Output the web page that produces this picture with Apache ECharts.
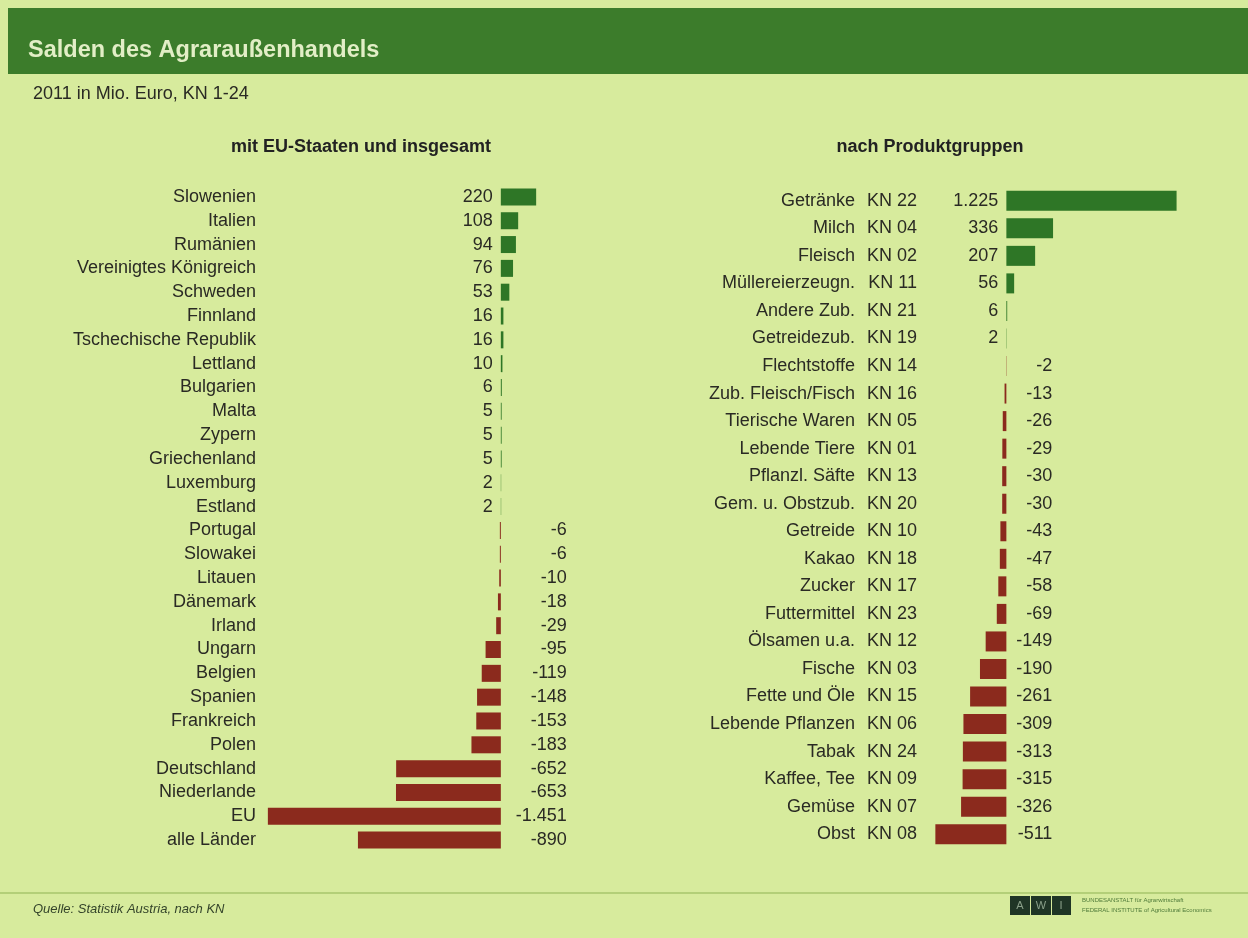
<!DOCTYPE html>
<html>
<head>
<meta charset="utf-8">
<script src="https://cdn.jsdelivr.net/npm/echarts@6/dist/echarts.min.js"></script>
<style>
html,body{margin:0;padding:0;background:#d7eb9d;}
#c{width:1248px;height:938px;}
</style>
</head>
<body>
<div id="c"></div>
<script>
// ---- data ----
const countries = ['Slowenien','Italien','Rumänien','Vereinigtes Königreich','Schweden','Finnland','Tschechische Republik','Lettland','Bulgarien','Malta','Zypern','Griechenland','Luxemburg','Estland','Portugal','Slowakei','Litauen','Dänemark','Irland','Ungarn','Belgien','Spanien','Frankreich','Polen','Deutschland','Niederlande','EU','alle Länder'];
const countryValues = [220,108,94,76,53,16,16,10,6,5,5,5,2,2,-6,-6,-10,-18,-29,-95,-119,-148,-153,-183,-652,-653,-1451,-890];

const productNames = ['Getränke','Milch','Fleisch','Müllereierzeugn.','Andere Zub.','Getreidezub.','Flechtstoffe','Zub. Fleisch/Fisch','Tierische Waren','Lebende Tiere','Pflanzl. Säfte','Gem. u. Obstzub.','Getreide','Kakao','Zucker','Futtermittel','Ölsamen u.a.','Fische','Fette und Öle','Lebende Pflanzen','Tabak','Kaffee, Tee','Gemüse','Obst'];
const productCodes = ['KN 22','KN 04','KN 02','KN 11','KN 21','KN 19','KN 14','KN 16','KN 05','KN 01','KN 13','KN 20','KN 10','KN 18','KN 17','KN 23','KN 12','KN 03','KN 15','KN 06','KN 24','KN 09','KN 07','KN 08'];
const productValues = [1225,336,207,56,6,2,-2,-13,-26,-29,-30,-30,-43,-47,-58,-69,-149,-190,-261,-309,-313,-315,-326,-511];

// ---- styling ----
const FONT = '"Liberation Sans", Arial, Helvetica, sans-serif';
const TXT = '#2a2a24';
const POS = '#2e7626';
const NEG = '#8b2a1d';
const BG = '#d7eb9d';

function fmt(v){
  const a = Math.abs(v);
  let s = a >= 1000 ? Math.floor(a/1000) + '.' + String(a%1000).padStart(3,'0') : String(a);
  return (v < 0 ? '-' : '') + s;
}

function buildItems(values, negBoxW){
  return values.map(v => {
    if (v >= 0) {
      return {value: v, itemStyle:{color: POS},
        label:{show:true, position:'left', distance:8, formatter: fmt(v), color: TXT, fontSize:18, fontFamily: FONT}};
    }
    return {value: v, itemStyle:{color: NEG},
      label:{show:true, position:'right', distance:6, formatter: '{v|' + fmt(v) + '}', color: TXT, fontSize:18, fontFamily: FONT,
        rich:{v:{width: negBoxW, align:'right', color: TXT, fontSize:18, fontFamily: FONT}}}};
  });
}

const chart = echarts.init(document.getElementById('c'), null, {renderer:'canvas'});

const option = {
  backgroundColor: BG,
  animation: false,
  grid: [
    {left: 260, top: 185, width: 289, height: 667},
    {left: 923, top: 187, width: 264, height: 661}
  ],
  xAxis: [
    {type:'value', gridIndex:0, min:-1500, max:300, show:false, splitLine:{show:false}},
    {type:'value', gridIndex:1, min:-600, max:1300, show:false, splitLine:{show:false}}
  ],
  yAxis: [
    {type:'category', gridIndex:0, data: countries, inverse:true,
      axisLine:{show:false}, axisTick:{show:false}, splitLine:{show:false},
      axisLabel:{margin:4, color: TXT, fontSize:18, fontFamily: FONT}},
    {type:'category', gridIndex:1, data: productNames.map((n,i)=> n + '\u0000' + productCodes[i]), inverse:true,
      axisLine:{show:false}, axisTick:{show:false}, splitLine:{show:false},
      axisLabel:{margin:6, color: TXT, fontSize:18, fontFamily: FONT,
        formatter: function(val){ const p = val.split('\u0000'); return '{n|' + p[0] + '}{k|' + p[1] + '}'; },
        rich:{
          n:{align:'right', color: TXT, fontSize:18, fontFamily: FONT},
          k:{align:'right', width:62, color: TXT, fontSize:18, fontFamily: FONT}
        }}}
  ],
  series: [
    {type:'bar', xAxisIndex:0, yAxisIndex:0, barWidth:17, data: buildItems(countryValues, 60)},
    {type:'bar', xAxisIndex:1, yAxisIndex:1, barWidth:20, data: buildItems(productValues, 40)}
  ],
  graphic: [
    {type:'rect', left:8, top:8, shape:{width:1240, height:66}, style:{fill:'#3c7c2b'}, z:0},
    {type:'text', left:28, top:39, style:{text:'Salden des Agraraußenhandels', fill:'#e2eec6', font:'bold 23.5px ' + FONT}},
    {type:'text', left:33, top:85, style:{text:'2011 in Mio. Euro, KN 1-24', fill: TXT, font:'18px ' + FONT}},
    {type:'text', x:361, y:147, style:{text:'mit EU-Staaten und insgesamt', fill: '#222', font:'bold 18px ' + FONT, textAlign:'center', textVerticalAlign:'middle'}},
    {type:'text', x:930, y:147, style:{text:'nach Produktgruppen', fill: '#222', font:'bold 18px ' + FONT, textAlign:'center', textVerticalAlign:'middle'}},
    {type:'rect', left:0, top:892, shape:{width:1248, height:2}, style:{fill:'#b3cf78'}},
    {type:'text', left:33, top:903, style:{text:'Quelle: Statistik Austria, nach KN', fill:'#34442a', font:'italic 13px ' + FONT}},
    {type:'rect', left:1010, top:896, shape:{width:20, height:19}, style:{fill:'#1f3526'}},
    {type:'rect', left:1031, top:896, shape:{width:20, height:19}, style:{fill:'#1f3526'}},
    {type:'rect', left:1052, top:896, shape:{width:19, height:19}, style:{fill:'#1f3526'}},
    {type:'text', x:1020, y:906, style:{text:'A', fill:'#8aa08a', font:'11px ' + FONT, textAlign:'center', textVerticalAlign:'middle'}},
    {type:'text', x:1041, y:906, style:{text:'W', fill:'#8aa08a', font:'11px ' + FONT, textAlign:'center', textVerticalAlign:'middle'}},
    {type:'text', x:1061, y:906, style:{text:'I', fill:'#8aa08a', font:'11px ' + FONT, textAlign:'center', textVerticalAlign:'middle'}},
    {type:'text', left:1082, top:897, style:{text:'BUNDESANSTALT für Agrarwirtschaft', fill:'#4f7a3a', font:'6px ' + FONT}},
    {type:'text', left:1082, top:907, style:{text:'FEDERAL INSTITUTE of Agricultural Economics', fill:'#4f7a3a', font:'6px ' + FONT}}
  ]
};
chart.setOption(option);
</script>
</body>
</html>
